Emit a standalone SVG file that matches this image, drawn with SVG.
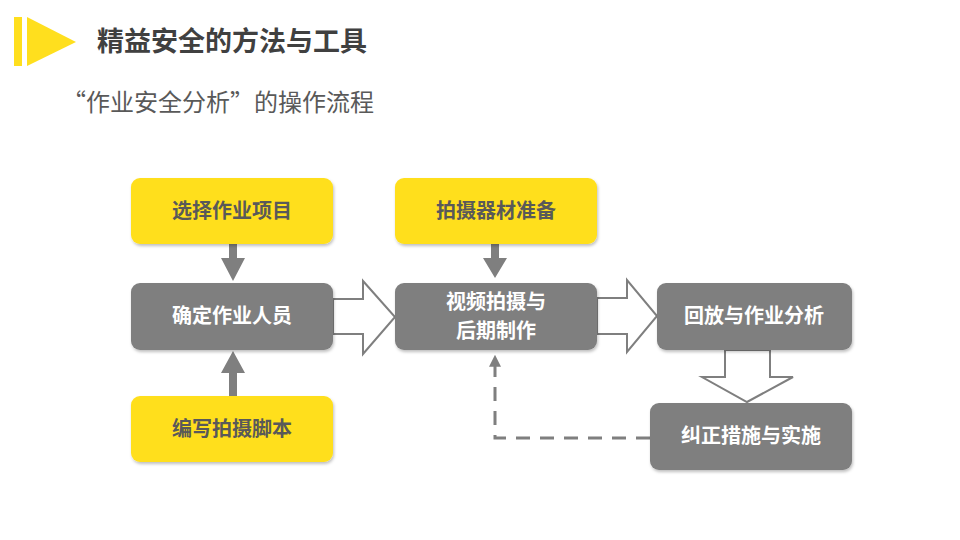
<svg xmlns="http://www.w3.org/2000/svg" width="960" height="540" viewBox="0 0 960 540">
<defs>
<style>
.t{font-family:"Noto Sans CJK SC","Noto Sans",sans-serif;font-weight:bold;font-size:20px;text-anchor:middle}
.y rect{fill:#FFDF1E}
.y text{fill:#595959}
.g rect{fill:#7F7F7F}
.g text{fill:#FFFFFF}
.hollow{fill:#FFFFFF;stroke:#7F7F7F;stroke-width:2;stroke-linejoin:miter}
.solid{fill:#7F7F7F}
</style>
<filter id="sh" x="-10%" y="-10%" width="120%" height="130%">
<feDropShadow dx="1" dy="2" stdDeviation="1.5" flood-color="#000" flood-opacity="0.25"/>
</filter>
<marker id="ah" viewBox="0 0 10 10" refX="9" refY="5" markerWidth="4" markerHeight="4" orient="auto">
<path d="M0,0 L10,5 L0,10 Z" fill="#7F7F7F"/>
</marker>
</defs>
<rect width="960" height="540" fill="#FFFFFF"/>
<g id="header">
<rect x="14" y="17" width="8" height="49" fill="#FFDF1E"/>
<polygon points="27,17 76,42 27,66" fill="#FFDF1E"/>
<text x="97" y="51" font-family="Noto Sans CJK SC,sans-serif" font-weight="bold" font-size="27" fill="#404040">精益安全的方法与工具</text>
<text x="62" y="111" font-family="Noto Sans CJK SC,sans-serif" font-size="24" fill="#595959">“作业安全分析”的操作流程</text>
</g>
<g id="connectors">
<polygon class="solid" points="229,244 237,244 237,258 245,258 233,281 221,258 229,258"/>
<polygon class="solid" points="229,396 237,396 237,373 245,373 233,351 221,373 229,373"/>
<polygon class="solid" points="491,244 499,244 499,258 507,258 495,278 483,258 491,258"/>
<polygon class="hollow" points="333,299 363,299 363,281 395,317 363,354 363,334 333,334"/>
<polygon class="hollow" points="597,298 627,298 627,280 657,316 627,352 627,334 597,334"/>
<polygon class="hollow" points="725,350 770,350 770,377 793,377 747,402 702,377 725,377"/>
<path d="M650,438 H495 V356" fill="none" stroke="#7F7F7F" stroke-width="3" stroke-dasharray="14,10" marker-end="url(#ah)"/>
</g>
<g id="n1" class="y"><rect x="131" y="178" width="202" height="66" rx="9" filter="url(#sh)"/><text class="t" x="232" y="218">选择作业项目</text></g>
<g id="n2" class="g"><rect x="131" y="283" width="202" height="67" rx="9" filter="url(#sh)"/><text class="t" x="232" y="323">确定作业人员</text></g>
<g id="n3" class="y"><rect x="131" y="396" width="202" height="66" rx="9" filter="url(#sh)"/><text class="t" x="232" y="436">编写拍摄脚本</text></g>
<g id="n4" class="y"><rect x="395" y="178" width="202" height="66" rx="9" filter="url(#sh)"/><text class="t" x="496" y="218">拍摄器材准备</text></g>
<g id="n5" class="g"><rect x="395" y="283" width="202" height="67" rx="9" filter="url(#sh)"/><text class="t" x="496" y="309">视频拍摄与</text><text class="t" x="496" y="338">后期制作</text></g>
<g id="n6" class="g"><rect x="657" y="283" width="195" height="67" rx="9" filter="url(#sh)"/><text class="t" x="754" y="323">回放与作业分析</text></g>
<g id="n7" class="g"><rect x="650" y="403" width="202" height="67" rx="9" filter="url(#sh)"/><text class="t" x="751" y="443">纠正措施与实施</text></g>
</svg>
